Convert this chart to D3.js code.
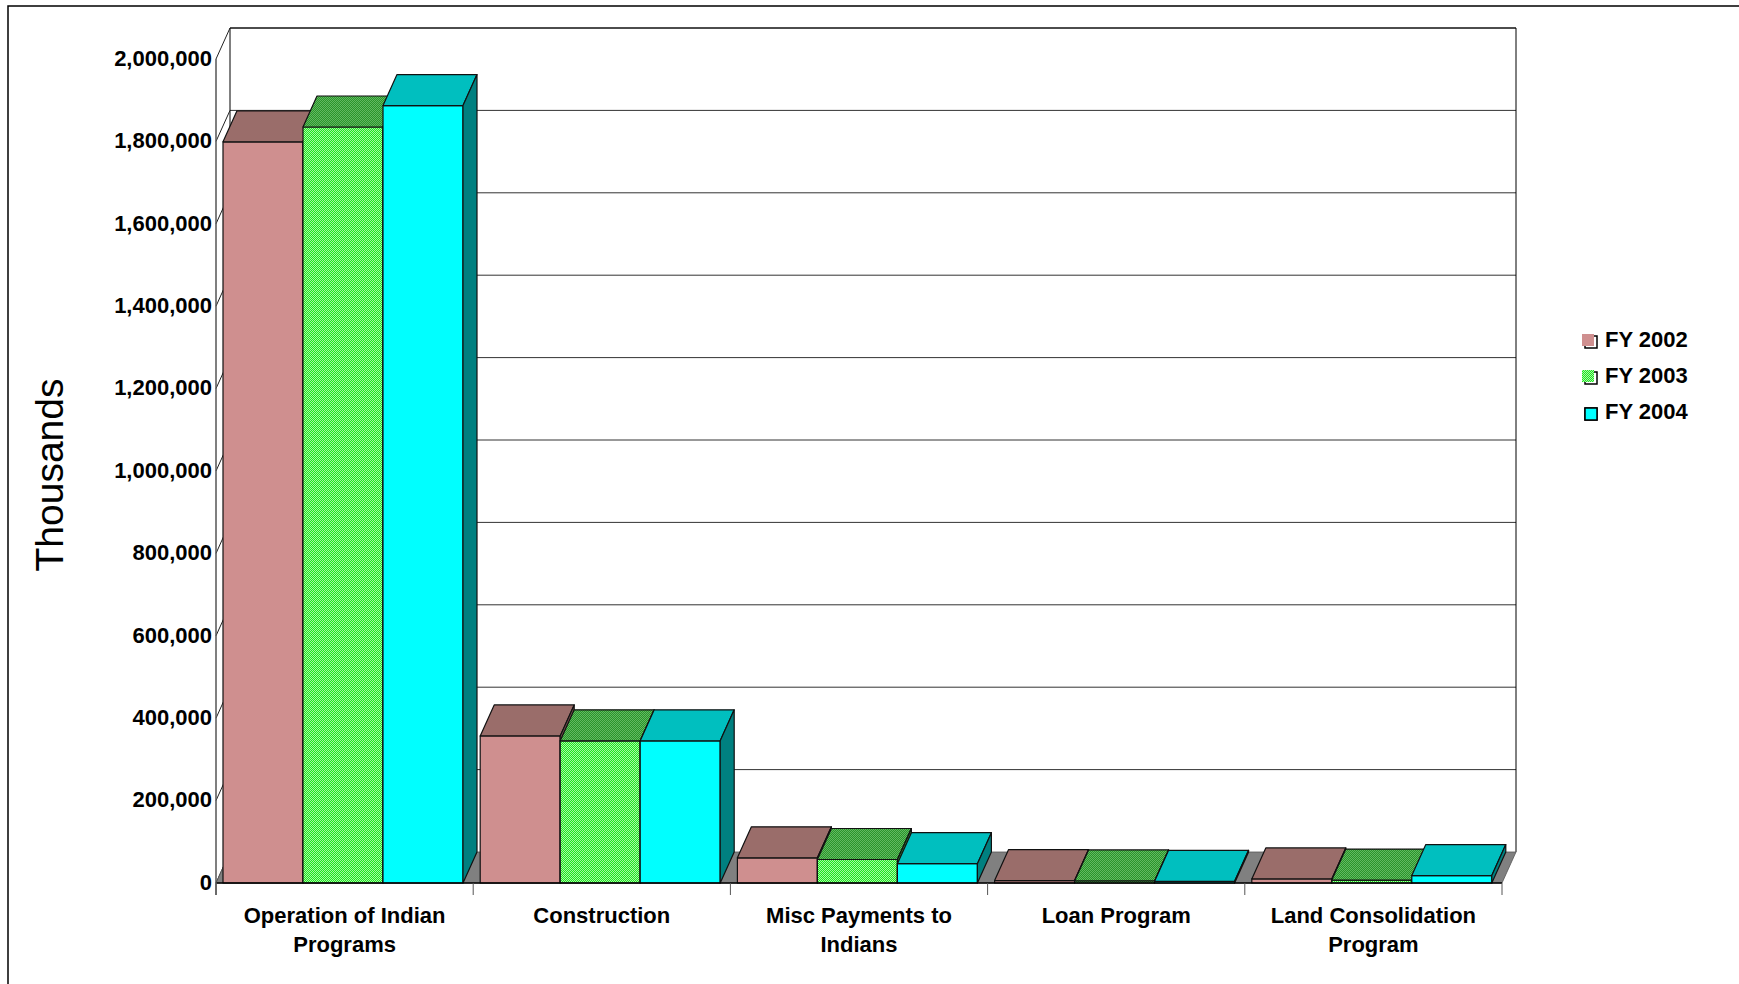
<!DOCTYPE html>
<meta charset="utf-8">
<script src="https://d3js.org/d3.v7.min.js"></script>
<style>
  body { margin: 0; background: #fff; }
  text { font-family: "Liberation Sans", Arial, sans-serif; }
</style>
<body>
<div id="chart"></div>
<script>

// data (thousands of dollars)
var categories = ["Operation of Indian Programs", "Construction", "Misc Payments to Indians", "Loan Program", "Land Consolidation Program"]
var catLines = [["Operation of Indian", "Programs"], ["Construction"], ["Misc Payments to", "Indians"], ["Loan Program"], ["Land Consolidation", "Program"]]
var series = ["FY 2002", "FY 2003", "FY 2004"]
var fy2002 = [1799000, 357000, 61000, 6000, 10000]
var fy2003 = [1835000, 345000, 57000, 5000, 7000]
var fy2004 = [1887000, 345000, 47000, 4000, 18000]
var yTicks = [0, 200000, 400000, 600000, 800000, 1000000, 1200000, 1400000, 1600000, 1800000, 2000000]

var width = 1739, height = 984
var DX = 14, DY = -31   // 3d depth offset

var svg = d3.select("#chart").append("svg")
  .attr("width", width)
  .attr("height", height)

var defs = svg.append("defs")
function checker(id, a, b) {
  var p = defs.append("pattern").attr("id", id)
    .attr("patternUnits", "userSpaceOnUse").attr("width", 2).attr("height", 2)
  p.append("rect").attr("width", 2).attr("height", 2).attr("fill", a)
  p.append("rect").attr("width", 1).attr("height", 1).attr("fill", b)
  p.append("rect").attr("x", 1).attr("y", 1).attr("width", 1).attr("height", 1).attr("fill", b)
}
checker("greenFront", "#1ee81e", "#a6f5a6")
checker("greenTop", "#2a962a", "#62b862")
checker("greenSide", "#1f6a1f", "#3a8a3a")

var colors = {
  "FY 2002": { front: "#cf8f8f", top: "#9a6d6a", side: "#7a4f4f" },
  "FY 2003": { front: "url(#greenFront)", top: "url(#greenTop)", side: "url(#greenSide)" },
  "FY 2004": { front: "#00ffff", top: "#00bfbf", side: "#008080" }
}

var y = d3.scaleLinear().domain([0, 2000000]).range([883, 59])
var x0 = d3.scaleBand().domain(categories).range([216, 1502]).padding(0)
var x1 = d3.scaleBand().domain(series).range([7, 247]).padding(0)

// outer frame
svg.append("rect")
  .attr("x", 8).attr("y", 6).attr("width", 1800).attr("height", 1000)
  .attr("fill", "none").attr("stroke", "#000").attr("stroke-width", 1.5)

var xL = x0.range()[0], xR = x0.range()[1]
var y0 = y(0), yTop = y(2000000)

// back wall gridlines
svg.selectAll(".grid")
  .data(yTicks.slice(1))
  .enter()
  .append("line")
    .attr("x1", xL + DX).attr("x2", xR + DX)
    .attr("y1", function(d){ return y(d) + DY })
    .attr("y2", function(d){ return y(d) + DY })
    .attr("stroke", "#333").attr("stroke-width", 1)

// back wall frame
svg.append("path")
  .attr("d", "M" + (xL + DX) + "," + (y0 + DY) + "V" + (yTop + DY) + "H" + (xR + DX) + "V" + (y0 + DY))
  .attr("fill", "none").attr("stroke", "#000").attr("stroke-width", 1)

// side wall slanted lines
svg.selectAll(".sidegrid")
  .data(yTicks)
  .enter()
  .append("line")
    .attr("x1", xL).attr("x2", xL + DX)
    .attr("y1", function(d){ return y(d) })
    .attr("y2", function(d){ return y(d) + DY })
    .attr("stroke", "#222").attr("stroke-width", 1)

// floor
svg.append("polygon")
  .attr("points", [[xL, y0], [xL + DX, y0 + DY], [xR + DX, y0 + DY], [xR, y0]].join(" "))
  .attr("fill", "#808080").attr("stroke", "#555").attr("stroke-width", 0.8)

// bars
var table = categories.map(function(c, i){
  return { cat: c, vals: [fy2002[i], fy2003[i], fy2004[i]] }
})

table.forEach(function(row){
  row.vals.forEach(function(v, j){
    var s = series[j]
    var bx = x0(row.cat) + x1(s), bw = x1.bandwidth()
    var yv = y(v)
    var g = svg.append("g")
      .attr("stroke", "#111").attr("stroke-width", 1.2).attr("stroke-linejoin", "round")
    g.append("rect")
      .attr("x", bx).attr("y", yv).attr("width", bw).attr("height", y0 - yv)
      .attr("fill", colors[s].front)
    g.append("polygon")
      .attr("points", [[bx, yv], [bx + DX, yv + DY], [bx + bw + DX, yv + DY], [bx + bw, yv]].join(" "))
      .attr("fill", colors[s].top)
    g.append("polygon")
      .attr("points", [[bx + bw, yv], [bx + bw + DX, yv + DY], [bx + bw + DX, y0 + DY], [bx + bw, y0]].join(" "))
      .attr("fill", colors[s].side)
  })
})

// front baseline + category ticks
svg.append("line")
  .attr("x1", xL).attr("x2", xR).attr("y1", y0).attr("y2", y0)
  .attr("stroke", "#000").attr("stroke-width", 1.5)
svg.selectAll(".xtick")
  .data(categories.concat(["end"]))
  .enter()
  .append("line")
    .attr("x1", function(d, i){ return xL + i * x0.step() })
    .attr("x2", function(d, i){ return xL + i * x0.step() })
    .attr("y1", y0).attr("y2", y0 + 12)
    .attr("stroke", "#555").attr("stroke-width", 1)

// y axis line (front left edge)
svg.append("line")
  .attr("x1", xL).attr("x2", xL).attr("y1", yTop).attr("y2", y0 + 12)
  .attr("stroke", "#555").attr("stroke-width", 1.5)

// y tick labels
svg.selectAll(".ylab")
  .data(yTicks)
  .enter()
  .append("text")
    .attr("x", xL - 4)
    .attr("y", function(d){ return y(d) + 1 })
    .attr("text-anchor", "end")
    .attr("dominant-baseline", "middle")
    .style("font-size", "22px").style("font-weight", "bold")
    .text(function(d){ return d3.format(",")(d) })

// category labels
svg.selectAll(".xlab")
  .data(categories)
  .enter()
  .append("text")
    .attr("x", function(d){ return x0(d) + x0.bandwidth() / 2 })
    .attr("y", 917)
    .attr("text-anchor", "middle")
    .style("font-size", "22px").style("font-weight", "bold")
    .each(function(d, i){
      var t = d3.select(this)
      catLines[i].forEach(function(line, k){
        t.append("tspan").attr("x", x0(d) + x0.bandwidth() / 2)
          .attr("y", 917 + k * 29).attr("dominant-baseline", "middle").text(line)
      })
    })

// y axis title
svg.append("text")
  .attr("transform", "translate(53,475) rotate(-90)")
  .attr("text-anchor", "middle")
  .attr("dominant-baseline", "middle")
  .style("font-size", "39px")
  .text("Thousands")

// legend
var legend = svg.selectAll(".legend")
  .data(series)
  .enter()
  .append("g")
    .attr("transform", function(d, i){ return "translate(1585," + (341 + i * 36) + ")" })
legend.append("rect")
  .attr("x", 0).attr("y", -5).attr("width", 12).attr("height", 12)
  .attr("fill", "none").attr("stroke", "#000").attr("stroke-width", 1.5)
legend.append("rect")
  .attr("x", function(d, i){ return i < 2 ? -3 : 0 })
  .attr("y", function(d, i){ return i < 2 ? -7 : -5 })
  .attr("width", 12).attr("height", 12)
  .attr("fill", function(d){ return colors[d].front })
legend.filter(function(d, i){ return i == 2 }).append("rect")
  .attr("x", 0).attr("y", -5).attr("width", 12).attr("height", 12)
  .attr("fill", "none").attr("stroke", "#000").attr("stroke-width", 1.5)
legend.append("text")
  .attr("x", 20).attr("y", 0)
  .attr("dominant-baseline", "middle")
  .style("font-size", "22px").style("font-weight", "bold")
  .text(function(d){ return d })

</script>
</body>
